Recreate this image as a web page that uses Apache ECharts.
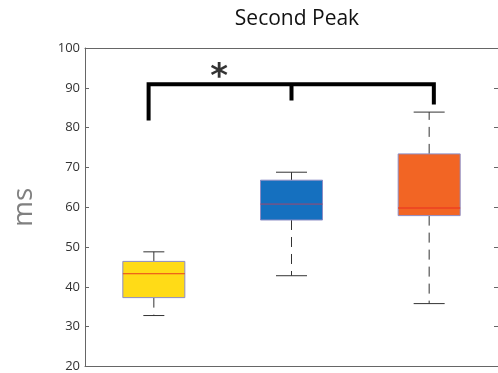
<!DOCTYPE html>
<html>
<head>
<meta charset="utf-8">
<script src="https://cdn.jsdelivr.net/npm/echarts@6/dist/echarts.min.js"></script>
<style>html,body{margin:0;padding:0;background:#fff}#c{width:498px;height:373px}</style>
</head>
<body>
<div id="c"></div>
<script>
// Data
var categories = ['A', 'B', 'C'];
// [low whisker, Q1, median, Q3, high whisker]
var boxStats = [
  [32.8, 37.3, 43.3, 46.4, 48.8],
  [42.8, 56.8, 60.8, 66.8, 68.8],
  [35.8, 57.9, 59.8, 73.4, 83.9]
];
var yTicks = [20, 30, 40, 50, 60, 70, 80, 90, 100];
var titleText = 'Second Peak';
var yAxisName = 'ms';
var bracketMain = [[0.962, 81.8], [0.962, 90.9], [3.034, 90.9], [3.034, 85.8]];
var bracketMid = [[2.0, 90.9], [2.0, 86.8]];
var starPoint = [[1.475, 94.8]];

var fillColors = ['#FFDB17', '#1570BF', '#F26524'];
var medianColors = ['#E8401C', '#A5456A', '#EC4122'];
var capHalf = [10.5, 15.5, 15.5];

var boxData = boxStats.map(function (s, i) { return [i].concat(s); });

var chart = echarts.init(document.getElementById('c'), null, {renderer: 'canvas'});
var axisColor = '#666';
var labelFont = '"Open Sans", "Noto Sans", sans-serif';

chart.setOption({
  animation: false,
  title: {
    text: titleText, left: 292, top: 4, textAlign: 'center',
    textStyle: {fontFamily: labelFont, fontSize: 21, fontWeight: 'normal', color: '#111'}
  },
  grid: {left: 85, top: 48, width: 415, height: 320, containLabel: false},
  xAxis: [
    {type: 'category', data: categories, position: 'bottom', boundaryGap: true,
     axisLine: {lineStyle: {color: axisColor, width: 1}},
     axisTick: {inside: true, alignWithLabel: true, length: 4, lineStyle: {color: axisColor}},
     axisLabel: {show: false}, splitLine: {show: false}},
    {type: 'category', data: categories, position: 'top', boundaryGap: true,
     axisLine: {show: true, lineStyle: {color: axisColor, width: 1}},
     axisTick: {inside: true, alignWithLabel: true, length: 4, lineStyle: {color: axisColor}},
     axisLabel: {show: false}, splitLine: {show: false}},
    {type: 'value', min: 0.5, max: 3.5, show: false}
  ],
  yAxis: [
    {type: 'value', min: yTicks[0], max: yTicks[yTicks.length - 1], interval: 10, position: 'left',
     name: yAxisName, nameLocation: 'middle', nameGap: 47, nameRotate: 90,
     nameTextStyle: {fontFamily: labelFont, fontSize: 28, color: '#808080'},
     axisLine: {show: true, lineStyle: {color: axisColor, width: 1}},
     axisTick: {show: true, inside: true, length: 4, lineStyle: {color: axisColor}},
     axisLabel: {fontFamily: labelFont, fontSize: 13, color: '#333', margin: 5},
     splitLine: {show: false}},
    {type: 'value', min: yTicks[0], max: yTicks[yTicks.length - 1], interval: 10, position: 'right',
     axisLine: {show: true, lineStyle: {color: axisColor, width: 1}},
     axisTick: {show: true, inside: true, length: 4, lineStyle: {color: axisColor}},
     axisLabel: {show: false}, splitLine: {show: false}}
  ],
  series: [
    {
      type: 'custom', xAxisIndex: 0, yAxisIndex: 0,
      data: boxData,
      encode: {x: 0, y: [1, 2, 3, 4, 5]},
      renderItem: function (params, api) {
        var i = api.value(0);
        var low = api.coord([i, api.value(1)]);
        var q1 = api.coord([i, api.value(2)]);
        var med = api.coord([i, api.value(3)]);
        var q3 = api.coord([i, api.value(4)]);
        var high = api.coord([i, api.value(5)]);
        var x = low[0];
        var halfW = 31;
        var ch = capHalf[i];
        var wStyle = {stroke: '#333', lineWidth: 1, lineDash: [10, 7]};
        var cStyle = {stroke: '#333', lineWidth: 1};
        return {
          type: 'group',
          children: [
            {type: 'line', shape: {x1: x, y1: q3[1], x2: x, y2: high[1]}, style: wStyle},
            {type: 'line', shape: {x1: x, y1: q1[1], x2: x, y2: low[1]}, style: wStyle},
            {type: 'line', shape: {x1: x - ch, y1: high[1], x2: x + ch, y2: high[1]}, style: cStyle},
            {type: 'line', shape: {x1: x - ch, y1: low[1], x2: x + ch, y2: low[1]}, style: cStyle},
            {type: 'rect', shape: {x: x - halfW, y: q3[1], width: halfW * 2, height: q1[1] - q3[1]},
             style: {fill: fillColors[i], stroke: '#8C8CC4', lineWidth: 1}},
            {type: 'line', shape: {x1: x - halfW, y1: med[1], x2: x + halfW, y2: med[1]},
             style: {stroke: medianColors[i], lineWidth: i === 2 ? 1.5 : 1}}
          ]
        };
      }
    },
    {
      type: 'line', xAxisIndex: 2, yAxisIndex: 0, data: bracketMain,
      symbol: 'none', lineStyle: {color: '#000', width: 4, cap: 'butt', join: 'miter'}
    },
    {
      type: 'line', xAxisIndex: 2, yAxisIndex: 0, data: bracketMid,
      symbol: 'none', lineStyle: {color: '#000', width: 4, cap: 'butt'}
    },
    {
      type: 'scatter', xAxisIndex: 2, yAxisIndex: 0, data: starPoint,
      symbolSize: 0,
      label: {show: true, position: 'inside', formatter: '*', offset: [0, 9],
              fontFamily: '"DejaVu Sans", sans-serif', fontSize: 34, fontWeight: 'bold', color: '#000'}
    }
  ]
});
</script>
</body>
</html>
